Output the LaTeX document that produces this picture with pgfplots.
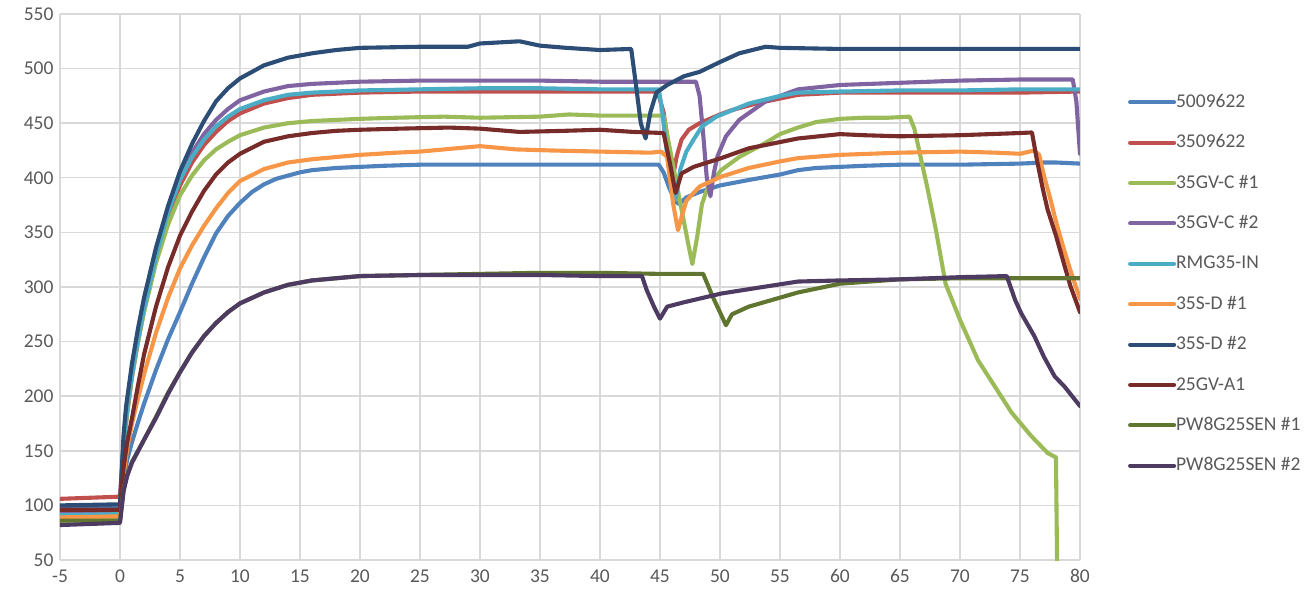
\documentclass[border=0pt]{standalone}
\usepackage{pgfplots}
\pgfplotsset{compat=1.18}
\usepackage{fontspec}
\setmainfont{Carlito}
\definecolor{cA}{HTML}{4F81BD}
\definecolor{cB}{HTML}{C0504D}
\definecolor{cC}{HTML}{9BBB59}
\definecolor{cD}{HTML}{8064A2}
\definecolor{cE}{HTML}{4BACC6}
\definecolor{cF}{HTML}{F79646}
\definecolor{cG}{HTML}{2C4D75}
\definecolor{cH}{HTML}{772C2A}
\definecolor{cI}{HTML}{5F7530}
\definecolor{cJ}{HTML}{4D3B62}
\definecolor{gridc}{HTML}{D9D9D9}
\definecolor{txt}{HTML}{595959}
\begin{document}
\begin{tikzpicture}
\begin{axis}[
  scale only axis, width=1020pt, height=546pt,
  xmin=-5, xmax=80, ymin=50, ymax=550,
  xtick={-5,0,...,80}, ytick={50,100,...,550},
  axis line style={draw=none},
  major tick length=0pt,
  grid=major,
  major grid style={draw=gridc, line width=1.4pt},
  /pgf/number format/assume math mode=true,
  tick label style={font=\fontsize{19.5}{23}\selectfont, text=txt},
  yticklabel style={xshift=-3pt},
  xticklabel style={yshift=-6pt},
  every axis plot/.append style={line width=4.1pt, line join=round, line cap=round},
  legend style={at={(1.047,0.8553)}, anchor=north west, draw=none, fill=none,
    inner sep=0pt, row sep=22.4pt,
    font=\fontsize{19.5}{23}\selectfont, text=txt,
    nodes={inner sep=0pt, text height=14pt, text depth=4pt, anchor=west}},
  legend cell align=left,
  legend image code/.code={\draw[#1, line width=4pt, line cap=round] (0pt,0pt) -- (44pt,0pt);},
  /tikz/column 2/.style={column sep=0pt},
]
\addplot[cA] coordinates {(-5,98) (-2.5,98) (0,99) (0.3,125) (0.6,142) (1,158) (1.5,176) (2,193) (3,224) (4,252) (5,277) (6,303) (7,327) (8,349) (9,365) (10,377) (11,387) (12,394) (13,399) (14,402) (15,405) (16,407) (17,408) (18,409) (20,410) (22,411) (25,412) (30,412) (35,412) (40,412) (44.9,412) (45.3,405) (45.8,390) (46.3,378) (46.6,376) (47.2,382) (48.3,387) (50,393) (52.4,398) (55,403) (56.5,407) (58,409) (60,410) (62,411) (65,412) (70,412) (75,413) (77,414) (78,414) (80,413)};
\addlegendentry{5009622}
\addplot[cB] coordinates {(-5,106) (0,108) (0.3,155) (0.6,185) (1,218) (1.5,250) (2,278) (3,325) (4,363) (5,393) (6,414) (7,430) (8,442) (9,452) (10,459) (12,468) (14,473) (16,476) (18,477) (20,478) (25,479) (30,479) (35,479) (40,479) (44.8,479) (45.3,460) (45.7,430) (46.1,402) (46.4,420) (46.8,435) (47.4,444) (48.3,450) (50,458) (51,462) (53,468) (56.5,476) (60,478) (65,478) (70,478) (75,478) (80,479)};
\addlegendentry{3509622}
\addplot[cC] coordinates {(-5,86) (0,88) (0.3,155) (0.6,185) (1,218) (1.5,250) (2,277) (3,322) (4,357) (5,384) (6,402) (7,416) (8,426) (9,433) (10,439) (12,446) (14,450) (16,452) (18,453) (20,454) (23,455) (27,456) (30,455) (35,456) (37.4,458) (40,457) (43,457) (45.3,457) (45.8,428) (46.6,382) (47.4,337) (47.7,321) (48.1,346) (48.5,376) (49,392) (50.1,407) (51.6,419) (53.8,432) (55,440) (56.5,446) (58,451) (60,454) (62,455) (64,455) (65.8,456) (66.2,445) (66.7,420) (67.3,390) (68,352) (68.8,303) (70,270) (71.5,233) (72.9,209) (74.3,185) (75.9,164) (77.3,148) (78,144) (78.1,40)};
\addlegendentry{35GV-C \#1}
\addplot[cD] coordinates {(-5,93) (0,94) (0.3,160) (0.6,190) (1,222) (1.5,254) (2,282) (3,330) (4,370) (5,400) (6,423) (7,440) (8,453) (9,463) (10,471) (12,479) (14,484) (16,486) (18,487) (20,488) (25,489) (30,489) (35,489) (40,488) (45,488) (48,488) (48.3,475) (48.6,440) (48.9,400) (49.2,383) (49.5,405) (49.8,420) (50.5,438) (51.6,453) (53.8,470) (56.5,481) (60,485) (65,487) (70,489) (75,490) (79.4,490) (79.7,470) (80,422)};
\addlegendentry{35GV-C \#2}
\addplot[cE] coordinates {(-5,91) (0,92) (0.3,158) (0.6,188) (1,220) (1.5,252) (2,280) (3,328) (4,368) (5,398) (6,419) (7,435) (8,447) (9,456) (10,463) (12,471) (14,476) (16,478) (18,479) (20,480) (25,481) (30,482) (35,482) (40,481) (44.9,481) (45.2,460) (45.6,420) (46,388) (46.3,380) (46.7,408) (47.2,424) (47.8,435) (48.5,447) (49.7,456) (52.4,468) (55,475) (56.5,478) (60,479) (65,480) (70,480) (75,481) (80,481)};
\addlegendentry{RMG35-IN}
\addplot[cF] coordinates {(-5,89) (0,90) (0.3,128) (0.6,152) (1,175) (1.5,198) (2,220) (3,258) (4,290) (5,317) (6,338) (7,356) (8,372) (9,386) (10,397) (12,408) (14,414) (16,417) (18,419) (20,421) (23,423) (25,424) (28,427) (30,429) (33,426) (36,425) (40,424) (44.2,423) (45.1,424) (45.6,419) (46.1,376) (46.5,352) (46.8,364) (47.2,379) (48.3,392) (50.1,401) (52.4,409) (55,415) (56.5,418) (60,421) (65,423) (70,424) (73,423) (75,422) (76.2,425) (76.6,421) (77,402) (77.5,382) (78,360) (78.7,333) (79.3,312) (80,289)};
\addlegendentry{35S-D \#1}
\addplot[cG] coordinates {(-5,100) (0,101) (0.3,165) (0.5,190) (1,230) (1.5,262) (2,290) (3,336) (4,374) (5,406) (6,431) (7,452) (8,470) (9,482) (10,491) (12,503) (14,510) (16,514) (18,517) (20,519) (25,520) (29,520) (30,523) (33.3,525) (35,521) (37.2,519) (40,517) (42.6,518) (43,485) (43.4,450) (43.8,436) (44.2,460) (44.7,478) (45.6,485) (47,493) (48.3,497) (50,506) (51.6,514) (53.8,520) (55,519) (60,518) (65,518) (70,518) (75,518) (80,518)};
\addlegendentry{35S-D \#2}
\addplot[cH] coordinates {(-5,96) (0,96) (0.3,135) (0.6,158) (1,180) (1.5,210) (2,238) (3,282) (4,318) (5,347) (6,369) (7,388) (8,403) (9,414) (10,422) (12,433) (14,438) (16,441) (18,443) (20,444) (23.3,445) (27.4,446) (30,445) (33.3,442) (37,443) (40,444) (42.8,442) (45.3,441) (45.8,415) (46.3,386) (46.8,404) (47.8,410) (50.1,418) (52.4,427) (56.5,436) (60,440) (62,439) (65,438) (70,439) (75,441) (76,441.5) (76.4,417) (76.9,390) (77.3,371) (78,347) (78.7,320) (79.2,301) (80,277)};
\addlegendentry{25GV-A1}
\addplot[cI] coordinates {(-5,86) (0,86) (0.3,115) (0.6,128) (1,140) (2,160) (3,181) (4,203) (5,222) (6,240) (7,255) (8,267) (9,277) (10,285) (12,295) (14,302) (16,306) (18,308) (20,310) (25,311) (30,312) (35,313) (40,313) (45,312) (48.6,312) (49.4,291) (50.5,265) (51,275) (52.4,282) (56.5,295) (60,303) (65,307) (70,308) (75,308) (80,308)};
\addlegendentry{PW8G25SEN \#1}
\addplot[cJ] coordinates {(-5,82) (0,84) (0.3,113) (0.6,127) (1,139) (2,160) (3,180) (4,202) (5,222) (6,240) (7,255) (8,267) (9,277) (10,285) (12,295) (14,302) (16,306) (18,308) (20,310) (25,311) (30,311) (35,311) (40,310) (43.5,310) (43.9,297) (44.5,282) (45,271) (45.6,282) (47,286) (50.1,294) (52.4,298) (56.5,305) (60,306) (65,307) (70,309) (73.9,310) (74.6,288) (75.1,276) (76.2,255) (77,236) (77.9,218) (78.7,209) (80,191)};
\addlegendentry{PW8G25SEN \#2}
\end{axis}
\pgfresetboundingbox
\path (current axis.south west) ++(-60pt,-40pt) rectangle ++(1304pt,600pt);
\end{tikzpicture}
\end{document}
